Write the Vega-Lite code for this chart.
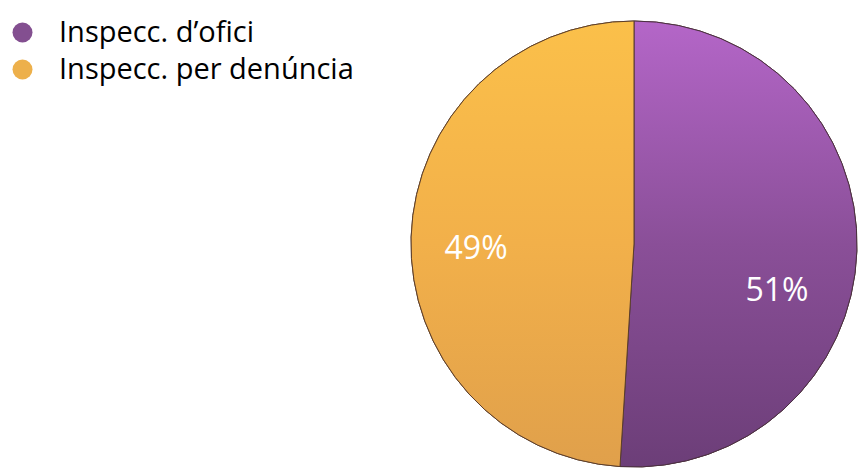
{
  "$schema": "https://vega.github.io/schema/vega-lite/v6.json",
  "autosize": "none",
  "width": 450,
  "height": 450,
  "padding": {"left": 409, "top": 19, "right": 0, "bottom": 0},
  "background": "white",
  "config": {"view": {"stroke": null}, "font": "Open Sans"},
  "data": {
    "values": [
      {"categoria": "Inspecc. d’ofici", "ordre": 1, "percentatge": 51, "etiqueta": "51%"},
      {"categoria": "Inspecc. per denúncia", "ordre": 2, "percentatge": 49, "etiqueta": "49%"}
    ]
  },
  "transform": [
    {"stack": "percentatge", "groupby": [], "sort": [{"field": "ordre", "order": "ascending"}], "as": ["inici", "final"]}
  ],
  "layer": [
    {
      "mark": {"type": "arc", "outerRadius": 223, "stroke": "#5a3d2c", "strokeWidth": 1},
      "encoding": {
        "theta": {"field": "inici", "type": "quantitative", "stack": null, "scale": {"domain": [0, 100]}},
        "theta2": {"field": "final"},
        "color": {
          "field": "categoria",
          "type": "nominal",
          "scale": {"domain": ["Inspecc. d’ofici", "Inspecc. per denúncia"], "range": ["#834f90", "#edb04b"]},
          "legend": {
            "title": null,
            "orient": "none",
            "legendX": -401,
            "legendY": -1,
            "symbolType": "circle",
            "symbolSize": 400,
            "symbolStrokeWidth": 0,
            "labelFontSize": 29,
            "labelFont": "Open Sans",
            "labelColor": "#000000",
            "labelOffset": 22,
            "rowPadding": 7,
            "labelLimit": 400
          }
        }
      }
    },
    {
      "transform": [{"filter": "datum.ordre == 1"}],
      "mark": {
        "type": "arc", "outerRadius": 223, "stroke": "#4a3040", "strokeWidth": 1,
        "fill": {"gradient": "linear", "x1": 0.5, "y1": 0, "x2": 0.5, "y2": 1,
          "stops": [{"offset": 0, "color": "#b466c8"}, {"offset": 0.5, "color": "#8a4f98"}, {"offset": 1, "color": "#6c3e78"}]}
      },
      "encoding": {
        "theta": {"field": "inici", "type": "quantitative", "stack": null, "scale": {"domain": [0, 100]}},
        "theta2": {"field": "final"}
      }
    },
    {
      "transform": [{"filter": "datum.ordre == 2"}],
      "mark": {
        "type": "arc", "outerRadius": 223, "stroke": "#5a3d2c", "strokeWidth": 1,
        "fill": {"gradient": "linear", "x1": 0.5, "y1": 0, "x2": 0.5, "y2": 1,
          "stops": [{"offset": 0, "color": "#fbc04a"}, {"offset": 0.5, "color": "#f2b04a"}, {"offset": 1, "color": "#e0a04b"}]}
      },
      "encoding": {
        "theta": {"field": "inici", "type": "quantitative", "stack": null, "scale": {"domain": [0, 100]}},
        "theta2": {"field": "final"}
      }
    },
    {
      "mark": {"type": "text", "radius": 150, "dy": 42, "dx": -7, "fontSize": 32, "fill": "white", "font": "Open Sans"},
      "encoding": {
        "theta": {"field": "percentatge", "type": "quantitative", "stack": true},
        "order": {"field": "ordre", "type": "quantitative"},
        "text": {"condition": {"test": "datum.ordre == 1", "field": "etiqueta"}, "value": ""}
      }
    },
    {
      "mark": {"type": "text", "radius": 158, "dy": 10, "fontSize": 32, "fill": "white", "font": "Open Sans"},
      "encoding": {
        "theta": {"field": "percentatge", "type": "quantitative", "stack": true},
        "order": {"field": "ordre", "type": "quantitative"},
        "text": {"condition": {"test": "datum.ordre == 2", "field": "etiqueta"}, "value": ""}
      }
    }
  ]
}
